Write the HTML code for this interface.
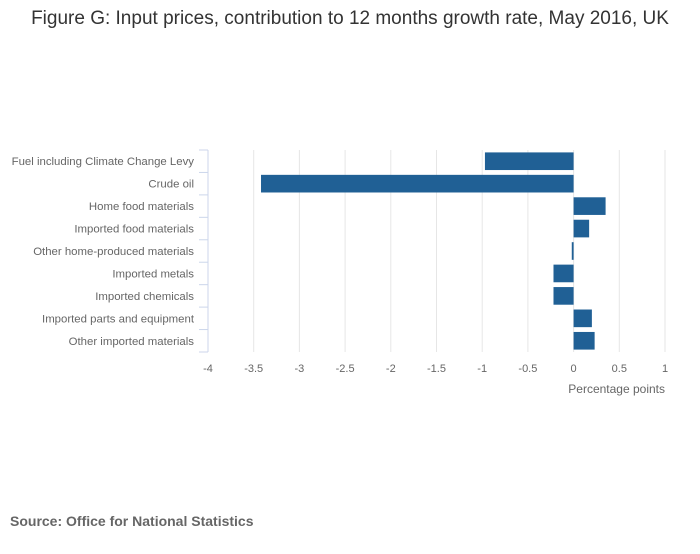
<!DOCTYPE html>
<html><head><meta charset="utf-8"><style>
body{margin:0;background:#fff;width:700px;height:549px;overflow:hidden;font-family:"Liberation Sans",sans-serif}
</style></head><body>
<svg width="700" height="549">
<text x="350" y="24" text-anchor="middle" font-size="19" fill="#333">Figure G: Input prices, contribution to 12 months growth rate, May 2016, UK</text>
<g id="grid"></g><g id="bars"></g><g id="axes"></g>
<text x="665" y="393" text-anchor="end" font-size="12" fill="#666">Percentage points</text>
<text x="10" y="526" font-size="14" font-weight="bold" fill="#666">Source: Office for National Statistics</text>
</svg>
<script>
const categories=["Fuel including Climate Change Levy","Crude oil","Home food materials","Imported food materials","Other home-produced materials","Imported metals","Imported chemicals","Imported parts and equipment","Other imported materials"];
const values=[-0.97,-3.42,0.35,0.17,-0.02,-0.22,-0.22,0.2,0.23];
const ticks=[-4,-3.5,-3,-2.5,-2,-1.5,-1,-0.5,0,0.5,1];
const tickLabels=["-4","-3.5","-3","-2.5","-2","-1.5","-1","-0.5","0","0.5","1"];
const NS="http://www.w3.org/2000/svg";
const x0=208,x1=665,yTop=150,yBot=352;
const xs=v=>x0+(v+4)/5*(x1-x0);
const band=(yBot-yTop)/categories.length;
const yb=i=>yTop+i*band;
function mk(tag,at,parent,txt){const e=document.createElementNS(NS,tag);for(const k in at)e.setAttribute(k,at[k]);if(txt!=null)e.textContent=txt;document.getElementById(parent).appendChild(e);return e;}
ticks.forEach((t,i)=>{
 if(i>0){const g=mk('line',{x1:xs(t),x2:xs(t),y1:yTop,y2:yBot,stroke:'#e6e6e6'},'grid');
 
 }
 const l=mk('text',{x:xs(t),y:372,'text-anchor':'middle','font-size':11,fill:'#666'},'axes',tickLabels[i]);
 
 
});
categories.forEach((c,i)=>{
 const v=values[i];
 const r=mk('rect',{x:Math.min(xs(v),xs(0)),y:yb(i)+2.4,width:Math.max(1,Math.abs(xs(v)-xs(0))),height:band-4.8,fill:'#206095'},'bars');
 
 
 const l=mk('text',{x:194,y:yb(i)+band/2+4,'text-anchor':'end','font-size':11.4,fill:'#666'},'axes',c);
 
 
});
for(let i=0;i<=categories.length;i++){
 const t=mk('line',{x1:199,x2:208,y1:yb(i),y2:yb(i),stroke:'#ccd6eb'},'axes');
 
 
}
const a=mk('line',{x1:208,x2:208,y1:yTop,y2:yBot,stroke:'#ccd6eb'},'axes');


</script>
</body></html>
